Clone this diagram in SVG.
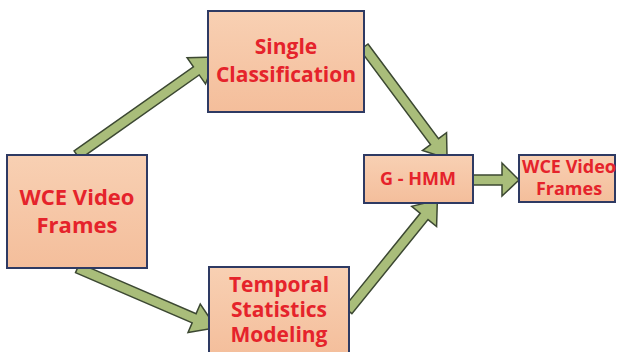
<svg xmlns="http://www.w3.org/2000/svg" width="617" height="352" viewBox="0 0 617 352">
<defs>
<linearGradient id="peach" x1="0" y1="0" x2="0" y2="1">
<stop offset="0" stop-color="#f8d0b3"/>
<stop offset="1" stop-color="#f4be9b"/>
</linearGradient>
<style>
.box{fill:url(#peach);stroke:#2e3a63;stroke-width:2}
.arrow{fill:#a9bd7a;stroke:#3c4832;stroke-width:1.5;stroke-linejoin:miter}
.lbl{font-family:"Open Sans","Noto Sans",sans-serif;font-weight:bold;fill:#e5232b;text-anchor:middle}
</style>
</defs>
<rect width="617" height="352" fill="#ffffff"/>
<g id="connectors">
<path class="arrow" transform="translate(77,155) rotate(-35.2)" d="M0,-5 L146,-5 L146,-16 L170,0 L146,16 L146,5 L0,5 Z"/>
<path class="arrow" transform="translate(77.5,268) rotate(23.3)" d="M0,-5 L127,-5 L127,-15.5 L151,0 L127,15.5 L127,5 L0,5 Z"/>
<path class="arrow" transform="translate(364,47) rotate(53.3)" d="M0,-5 L118,-5 L118,-15 L139,0 L118,15 L118,5 L0,5 Z"/>
<path class="arrow" transform="translate(348,310.5) rotate(-51)" d="M0,-5 L121,-5 L121,-16 L142,0 L121,16 L121,5 L0,5 Z"/>
<path class="arrow" d="M473,175 L502,175 L502,163 L519,180 L502,196 L502,185 L473,185 Z"/>
</g>
<g id="node-wce-input">
<rect class="box" x="7" y="155" width="140" height="113"/>
<text class="lbl" x="77" y="205" font-size="22">WCE Video</text>
<text class="lbl" x="77" y="233" font-size="22">Frames</text>
</g>
<g id="node-single-classification">
<rect class="box" x="208" y="11" width="156" height="101"/>
<text class="lbl" x="286" y="54" font-size="21">Single</text>
<text class="lbl" x="286" y="82" font-size="21">Classification</text>
</g>
<g id="node-temporal">
<rect class="box" x="209" y="267" width="140" height="90"/>
<text class="lbl" x="279" y="292" font-size="21">Temporal</text>
<text class="lbl" x="279" y="317" font-size="21">Statistics</text>
<text class="lbl" x="279" y="342" font-size="21">Modeling</text>
</g>
<g id="node-ghmm">
<rect class="box" x="364" y="155" width="109" height="48"/>
<text class="lbl" x="418" y="185" font-size="18">G - HMM</text>
</g>
<g id="node-wce-output">
<rect class="box" x="519" y="155" width="96" height="47"/>
<text class="lbl" x="569" y="173" font-size="18">WCE Video</text>
<text class="lbl" x="569" y="195" font-size="18">Frames</text>
</g>
</svg>
